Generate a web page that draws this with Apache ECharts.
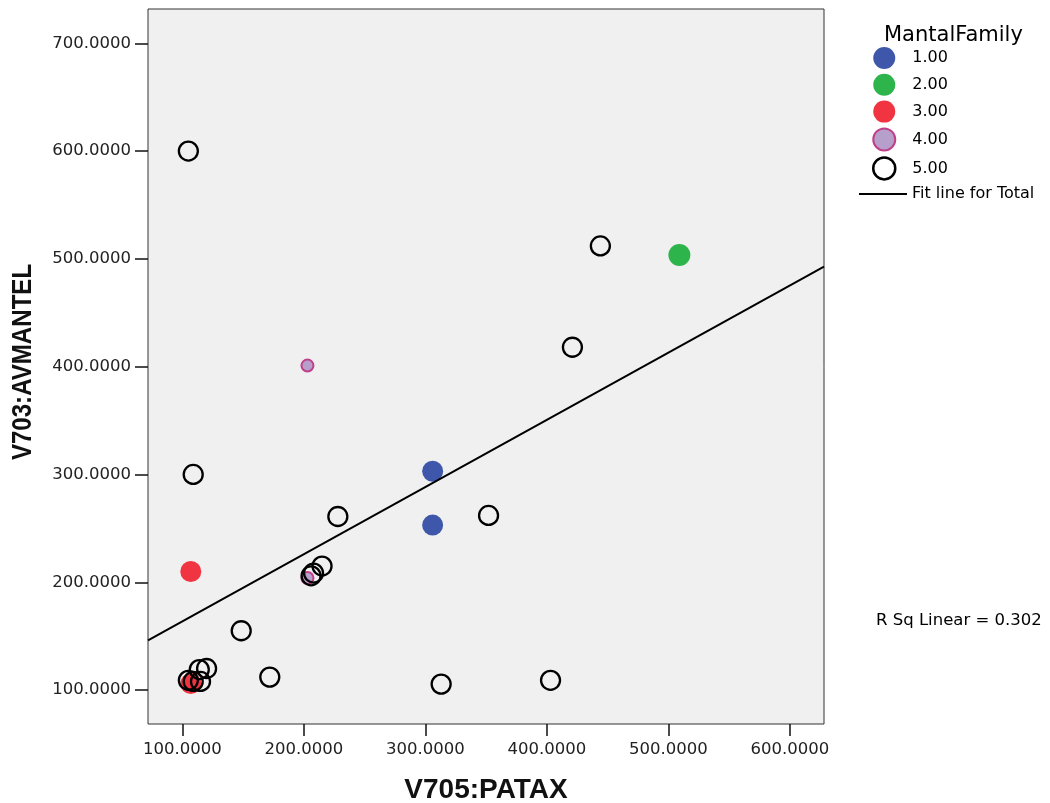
<!DOCTYPE html>
<html>
<head>
<meta charset="utf-8">
<script src="https://cdn.jsdelivr.net/npm/echarts@6/dist/echarts.min.js"></script>
<style>
  html, body { margin: 0; padding: 0; background: #fff; }
  #chart { width: 1050px; height: 803px; }
</style>
</head>
<body>
<div id="chart"></div>
<script>
// groups of MantalFamily, points are [V705:PATAX, V703:AVMANTEL]
const groupNames = ['1.00', '2.00', '3.00', '4.00', '5.00']
const family1 = [[306, 303], [306, 253]]
const family2 = [[509, 503.5]]
const family3 = [[107, 210], [107, 106]]
const family4 = [[203, 401], [203, 204]]
const family5 = [
  [105, 600], [444, 512], [421, 418], [109, 300], [228, 261], [352, 262],
  [215, 215], [208, 208.5], [206, 206], [148.5, 155], [172, 112],
  [313, 105.5], [403, 109], [120, 120], [114, 119], [115, 108],
  [109, 108], [105, 109]
]
// fit line for total, read at both plot edges
const fitLine = [[71.8, 146], [628, 492.9]]
const xTicks = [100, 200, 300, 400, 500, 600]
const yTicks = [100, 200, 300, 400, 500, 600, 700]
const rSq = '0.302'

const chart = echarts.init(document.getElementById('chart'))
const numFont = 'DejaVu Sans'

// legend icons for each group
const legendItems = [
  { name: '1.00', itemStyle: { color: '#3F57AA', borderWidth: 0 } },
  { name: '2.00', itemStyle: { color: '#2DB44B', borderWidth: 0 } },
  { name: '3.00', itemStyle: { color: '#F03441', borderWidth: 0 } },
  { name: '4.00', itemStyle: { color: '#B79FCB', borderColor: '#C1408A', borderWidth: 2 } },
  { name: '5.00', itemStyle: { color: 'rgba(0,0,0,0)', borderColor: '#000', borderWidth: 2.5 } },
]

const option = {
  animation: false,
  backgroundColor: '#fff',
  title: [
    {
      text: 'MantalFamily',
      left: 879, top: 20,
      textStyle: { fontFamily: numFont, fontSize: 21, fontWeight: 'normal', color: '#000' },
    },
    {
      text: 'R Sq Linear = ' + rSq,
      left: 871, top: 607,
      textStyle: { fontFamily: numFont, fontSize: 16.5, fontWeight: 'normal', color: '#000' },
    },
  ],
  legend: [
    {
      orient: 'vertical',
      left: 867, top: 42,
      itemWidth: 22, itemHeight: 22, itemGap: 4.8,
      icon: 'circle',
      selectedMode: false,
      data: legendItems,
      textStyle: { fontFamily: numFont, fontSize: 16, color: '#000', padding: [0, 0, 0, 12] },
    },
    {
      left: 854, top: 181,
      itemWidth: 48, itemHeight: 2,
      icon: 'rect',
      selectedMode: false,
      data: [{ name: 'Fit line for Total', itemStyle: { color: '#000' } }],
      textStyle: { fontFamily: numFont, fontSize: 16, color: '#000' },
    },
  ],
  // y axis title, squeezed like the narrow bold face of the original
  graphic: [
    {
      type: 'text',
      x: 23, y: 362,
      rotation: Math.PI / 2,
      scaleX: 0.86,
      style: {
        text: 'V703:AVMANTEL',
        font: 'bold 28px "Liberation Sans", Arial, sans-serif',
        fill: '#111',
        align: 'center',
        verticalAlign: 'middle',
      },
    },
  ],
  grid: {
    left: 148, right: 226, top: 9, bottom: 79,
    outerBoundsMode: 'none',
    containLabel: false,
    show: true,
    backgroundColor: '#F0F0F0',
    borderColor: '#333',
    borderWidth: 1,
  },
  xAxis: {
    type: 'value',
    min: 71.8, max: 628,
    name: 'V705:PATAX',
    nameLocation: 'middle',
    nameGap: 52,
    nameTextStyle: { fontFamily: 'Liberation Sans', fontWeight: 'bold', fontSize: 28, color: '#111' },
    axisLine: { show: false },
    splitLine: { show: false },
    axisTick: { show: true, length: 12, customValues: xTicks, lineStyle: { color: '#111', width: 1.5 } },
    axisLabel: {
      customValues: xTicks, margin: 17,
      fontFamily: numFont, fontSize: 16.5, color: '#222',
      formatter: v => v.toFixed(4),
    },
  },
  yAxis: {
    type: 'value',
    min: 68.5, max: 731.8,
    axisLine: { show: false },
    splitLine: { show: false },
    axisTick: { show: true, length: 13, customValues: yTicks, lineStyle: { color: '#111', width: 1.5 } },
    axisLabel: {
      customValues: yTicks, margin: 17,
      fontFamily: numFont, fontSize: 16.5, color: '#222',
      formatter: v => v.toFixed(4),
    },
  },
  series: [
    {
      name: groupNames[0], type: 'scatter', symbolSize: 21, data: family1,
      itemStyle: { color: '#3F57AA', opacity: 1 },
    },
    {
      name: groupNames[1], type: 'scatter', symbolSize: 22, data: family2,
      itemStyle: { color: '#2DB44B', opacity: 1 },
    },
    {
      name: groupNames[2], type: 'scatter', symbolSize: 21, data: family3,
      itemStyle: { color: '#F03441', opacity: 1 },
    },
    {
      name: groupNames[3], type: 'scatter', symbolSize: 12, data: family4,
      itemStyle: { color: '#B79FCB', borderColor: '#C1408A', borderWidth: 2, opacity: 1 },
    },
    {
      name: 'Fit line for Total', type: 'line', data: fitLine,
      symbol: 'none', silent: true,
      lineStyle: { color: '#000', width: 2 },
      itemStyle: { color: '#000' },
    },
    {
      name: groupNames[4], type: 'scatter', symbolSize: 19, data: family5,
      itemStyle: { color: 'rgba(0,0,0,0)', borderColor: '#000', borderWidth: 2.3, opacity: 1 },
    },
  ],
}

chart.setOption(option)
</script>
</body>
</html>
